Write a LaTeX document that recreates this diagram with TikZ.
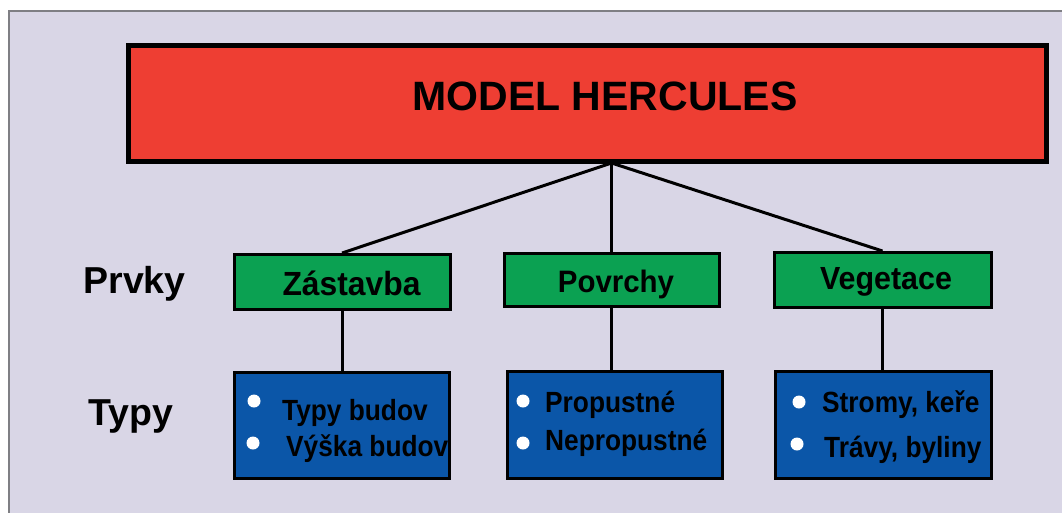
\documentclass[tikz,border=0pt]{standalone}
\usepackage{fontspec}
\setmainfont{Liberation Sans}
\newfontfamily\narrowfam[FakeStretch=0.9]{Liberation Sans}
\newfontfamily\gfam[FakeStretch=0.95]{Liberation Sans}
\definecolor{bgl}{HTML}{D9D6E6}
\definecolor{frm}{HTML}{7F7F84}
\definecolor{redf}{HTML}{EE3E33}
\definecolor{greenf}{HTML}{0BA152}
\definecolor{bluef}{HTML}{0B56A8}
\tikzset{
  redbox/.style={draw=black, line width=5pt, fill=redf, minimum width=918, minimum height=116, inner sep=0pt},
  greenbox/.style={draw=black, line width=3pt, fill=greenf, inner sep=0pt},
  bluebox/.style={draw=black, line width=3pt, fill=bluef, inner sep=0pt},
  conn/.style={draw=black, line width=3pt},
  titletxt/.style={font=\bfseries\fontsize{41}{41}\selectfont, anchor=base, inner sep=0pt},
  gtxt/.style={font=\gfam\bfseries\fontsize{#1}{#1}\selectfont, anchor=base, inner sep=0pt},
  btxt/.style={font=\narrowfam\bfseries\fontsize{29.2}{29.2}\selectfont, anchor=base west, inner sep=0pt},
  sidetxt/.style={font=\bfseries\fontsize{37.5}{37.5}\selectfont, anchor=base, inner sep=0pt},
  bullet/.style={circle, fill=white, minimum size=13, inner sep=0pt}
}
\begin{document}
\begin{tikzpicture}[x=1pt, y=-1pt]
\useasboundingbox (0,0) rectangle (1062,512);
\fill[white] (0,0) rectangle (1062,512);
\draw[frm, line width=2pt, fill=bgl] (9,11) rectangle (1075,525);

% top box
\node[redbox] (top) at (587,103) {};
\node[titletxt] (toptxt) at (605,110) {MODEL HERCULES};
\coordinate (hub) at (611.5,163);

% green boxes
\node[greenbox, minimum width=216, minimum height=55] (zas) at (342,282) {};
\node[greenbox, minimum width=215, minimum height=53] (pov) at (611.5,280) {};
\node[greenbox, minimum width=217, minimum height=55] (veg) at (882.5,280) {};
\node[gtxt=33.5] (zast) at (351.5,295) {Zástavba};
\node[gtxt=31] (povt) at (616,292) {Povrchy};
\node[gtxt=32] (vegt) at (886,289) {Vegetace};

% blue boxes
\node[bluebox, minimum width=215, minimum height=106] (zasb) at (341.5,425.5) {};
\node[bluebox, minimum width=215, minimum height=107] (povb) at (614.5,425) {};
\node[bluebox, minimum width=216, minimum height=107] (vegb) at (883,425) {};

% connectors
\draw[conn] (hub) -- (zas.north);
\draw[conn] (hub) -- (pov.north);
\draw[conn] (hub) -- (veg.north);
\draw[conn] (zas.south) -- (zas.south |- zasb.north);
\draw[conn] (pov.south) -- (pov.south |- povb.north);
\draw[conn] (veg.south) -- (veg.south |- vegb.north);

% bullets and texts
\node[bullet] (b1) at (254,401) {};
\node[bullet] (b2) at (253,443) {};
\node[btxt] (t1) at (282,420) {Typy budov};
\node[btxt] (t2) at (286,456) {Výška budov};

\node[bullet] (b3) at (523,401) {};
\node[bullet] (b4) at (523,443) {};
\node[btxt] (t3) at (545,412) {Propustné};
\node[btxt] (t4) at (545,450) {Nepropustné};

\node[bullet] (b5) at (799,402) {};
\node[bullet] (b6) at (797,444) {};
\node[btxt] (t5) at (822,412) {Stromy, keře};
\node[btxt] (t6) at (824,457) {Trávy, byliny};

% side labels
\node[sidetxt] (prvky) at (134.5,293) {Prvky};
\node[sidetxt] (typy) at (130.5,425) {Typy};
\end{tikzpicture}
\end{document}
